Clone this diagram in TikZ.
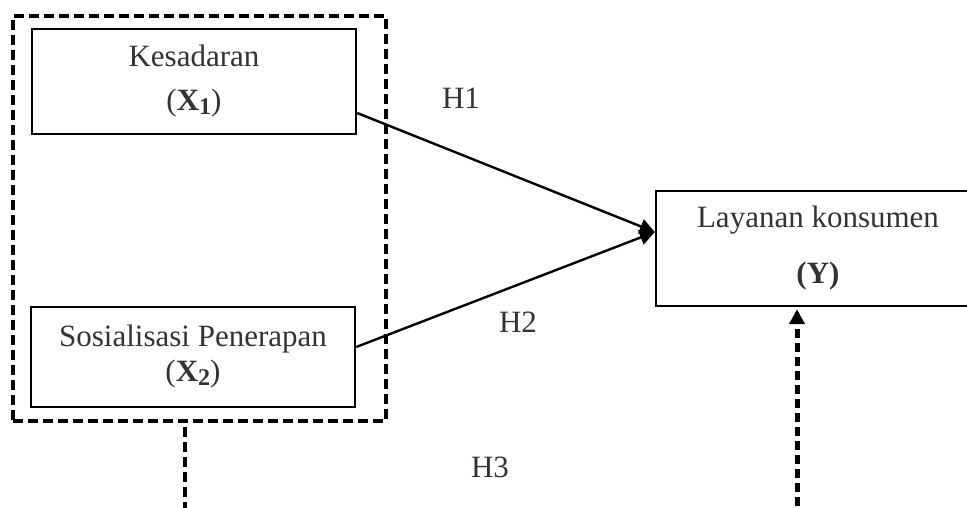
\documentclass[tikz,border=0pt]{standalone}
\usepackage{fontspec}
\setmainfont{Liberation Serif}
\usetikzlibrary{arrows.meta,positioning,calc}
\newcommand{\subidx}[1]{\raisebox{-4pt}{\fontsize{24}{24}\selectfont\textbf{#1}}}
\begin{document}
\begin{tikzpicture}[x=1pt,y=-1pt,
every node/.style={font=\fontsize{31}{35}\selectfont},
varbox/.style={draw,line width=2.4pt,minimum width=324pt,align=center,inner sep=0pt,text=black!80},
lbl/.style={text=black!80},
arr/.style={line width=2.4pt,-{Triangle[length=15pt,width=15pt]}},
dsh/.style={line width=3.8pt,dash pattern=on 10pt off 5pt}]
\clip (0,0) rectangle (967,508);
\node[varbox,minimum height=105pt] (b1) at (194,81.5) {Kesadaran\\[9pt](\textbf{X}\subidx{1})};
\node[varbox,minimum height=100pt] (b2) at (193,357) {Sosialisasi Penerapan\\(\textbf{X}\subidx{2})};
\node[varbox,minimum height=115pt] (Y) at (818,248.5) {Layanan konsumen\\[21pt]\textbf{(Y)}};
\node[draw,dsh,minimum width=373pt,minimum height=405pt] (grp) at (199.5,218.5) {};
\node[lbl] (h1) at (461,98) {H1};
\node[lbl] (h2) at (518,322) {H2};
\node[lbl] (h3) at (490,467) {H3};
\draw[arr] ([yshift=-31.5pt]b1.east) -- ([yshift=16.5pt]Y.west);
\draw[arr] ([yshift=10pt]b2.east) -- ([yshift=16.5pt]Y.west);
\coordinate (g1) at (185,427);
\coordinate (g2) at (185,520);
\draw[dsh] (g1) -- (g2);
\coordinate (a0) at (797,520);
\draw[dsh,line width=5pt,dash pattern=on 9pt off 5pt,shorten >=2pt,-{Triangle[length=15pt,width=15pt]}] (a0) -- (a0 |- Y.south);
\end{tikzpicture}
\end{document}
